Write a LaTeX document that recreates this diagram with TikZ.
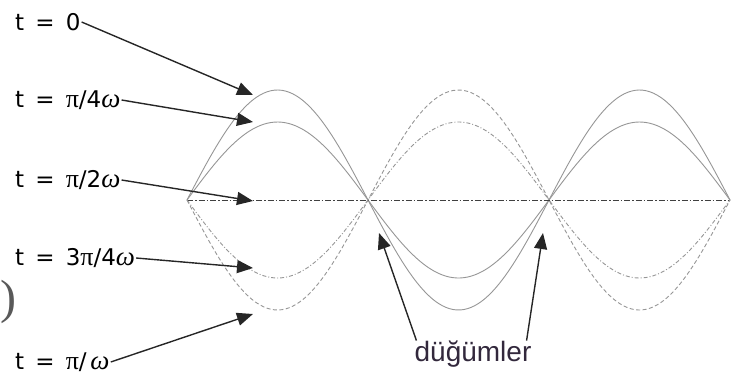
\documentclass[tikz,border=0pt]{standalone}
\usepackage{fontspec}
\setmainfont{DejaVu Sans}
\newfontfamily\arialfont{Liberation Sans}
\newfontfamily\greekfont{Liberation Serif}
\newcommand\grkpi{{\greekfont\fontsize{26}{26}\selectfont π}}
\newcommand\grkom{{\greekfont\itshape\fontsize{27}{27}\selectfont ω}}
\usetikzlibrary{arrows.meta}
\definecolor{wavegray}{RGB}{150,150,150}
\definecolor{labeldark}{RGB}{50,40,60}
\tikzset{
  wave/.style={wavegray,line width=0.9pt},
  pointer/.style={black!85,line width=1.4pt,-{Triangle[length=16pt,width=13pt]}},
  tlabel/.style={anchor=west,inner sep=1pt,font=\fontsize{23}{25}\selectfont},
}
\begin{document}
\begin{tikzpicture}[x=1pt,y=-1pt]
  \useasboundingbox (0,0) rectangle (733,378);
  \draw[wave] plot[domain=187:730,samples=150,smooth] (\x,{200-110*sin((\x-187)/181*180)});
  \draw[wave] plot[domain=187:730,samples=150,smooth] (\x,{200-78*sin((\x-187)/181*180)});
  \draw[black!75,line width=1pt,dash pattern=on 6pt off 2pt on 1.5pt off 2pt] (187,200) -- (730,200);
  \draw[wave,dash pattern=on 4pt off 2pt on 1pt off 2pt] plot[domain=187:730,samples=150,smooth] (\x,{200+78*sin((\x-187)/181*180)});
  \draw[wave,dash pattern=on 4pt off 2.5pt] plot[domain=187:730,samples=150,smooth] (\x,{200+110*sin((\x-187)/181*180)});

  \node[tlabel] (t0) at (14,22) {t\,\ =\ \,0};
  \node[tlabel] (t1) at (14,100) {t\,\ =\ \,\grkpi/4\grkom};
  \node[tlabel] (t2) at (14,180) {t\,\ =\ \,\grkpi/2\grkom};
  \node[tlabel] (t3) at (14,258) {t\,\ =\ \,3\grkpi/4\grkom};
  \node[tlabel] (t4) at (14,362) {t\,\ =\ \,\grkpi/\,\grkom};
  \node[black!65,inner sep=0pt,font=\greekfont\fontsize{48}{48}\selectfont] (paren) at (8,302) {)};

  \coordinate (tip0) at (253,95);
  \coordinate (tip1) at (253,122);
  \coordinate (tip2) at (253,201);
  \coordinate (tip3) at (253,268);
  \coordinate (tip4) at (253,314);
  \draw[pointer] (t0.east) -- (tip0);
  \draw[pointer] (t1.east) -- (tip1);
  \draw[pointer] (t2.east) -- (tip2);
  \draw[pointer] (t3.east) -- (tip3);
  \draw[pointer] (t4.east) -- (tip4);

  \node[inner sep=0pt,text=labeldark,font=\arialfont\fontsize{28}{30}\selectfont] (nodes) at (473,354) {düğümler};
  \coordinate (nodeA) at (379,233);
  \coordinate (nodeB) at (543,233);
  \draw[pointer] ([xshift=2pt]nodes.north west) -- (nodeA);
  \draw[pointer] ([xshift=-5pt]nodes.north east) -- (nodeB);
\end{tikzpicture}
\end{document}
